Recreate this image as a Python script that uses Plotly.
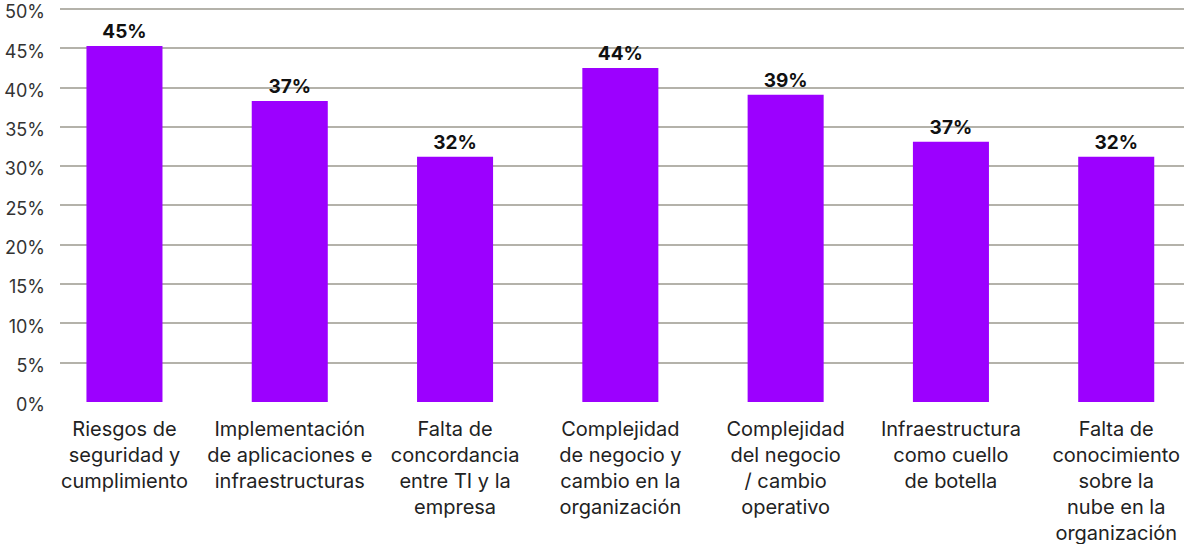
import plotly.graph_objects as go

categories = [
    "Riesgos de<br>seguridad y<br>cumplimiento",
    "Implementación<br>de aplicaciones e<br>infraestructuras",
    "Falta de<br>concordancia<br>entre TI y la<br>empresa",
    "Complejidad<br>de negocio y<br>cambio en la<br>organización",
    "Complejidad<br>del negocio<br>/ cambio<br>operativo",
    "Infraestructura<br>como cuello<br>de botella",
    "Falta de<br>conocimiento<br>sobre la<br>nube en la<br>organización",
]
bar_values = [45.3, 38.3, 31.2, 42.5, 39.1, 33.1, 31.2]
value_labels = ["45%", "37%", "32%", "44%", "39%", "37%", "32%"]
y_ticks = [0, 5, 10, 15, 20, 25, 30, 35, 40, 45, 50]
y_tick_labels = [f"{v}%" for v in y_ticks]

x_idx = list(range(len(categories)))

fig = go.Figure(
    go.Bar(
        x=x_idx,
        y=bar_values,
        width=0.46,
        marker=dict(color="#9c00ff", line=dict(width=0)),
        text=value_labels,
        textposition="outside",
        textfont=dict(family="Inter", size=19, color="#111111", weight="bold"),
        cliponaxis=False,
        hoverinfo="skip",
    )
)

fig.update_layout(
    width=1184,
    height=544,
    margin=dict(l=60, r=0, t=7, b=142),
    paper_bgcolor="white",
    plot_bgcolor="white",
    showlegend=False,
    font=dict(family="Inter", color="#222222"),
    xaxis=dict(
        range=[-0.39, 6.41],
        tickmode="array",
        tickvals=x_idx,
        ticktext=categories,
        tickfont=dict(size=20, color="#222222"),
        showgrid=False,
        showline=False,
        zeroline=False,
        ticks="",
        tickangle=0,
        automargin=False,
        ticklabelstandoff=13,
        ticklabeloverflow="allow",
    ),
    yaxis=dict(
        range=[0, 50.25],
        tickmode="array",
        tickvals=y_ticks,
        ticktext=y_tick_labels,
        tickfont=dict(size=18, color="#333333"),
        showgrid=True,
        gridcolor="#b4b2aa",
        gridwidth=1.5,
        zeroline=False,
        showline=False,
        ticks="",
        automargin=False,
        ticklabelstandoff=14,
        ticklabelshift=3,
        ticklabeloverflow="allow",
    ),
)

fig.write_html(
    "out.html",
    config={"displayModeBar": False},
    post_script="document.body.style.margin='0';document.body.style.overflow='hidden';",
)
